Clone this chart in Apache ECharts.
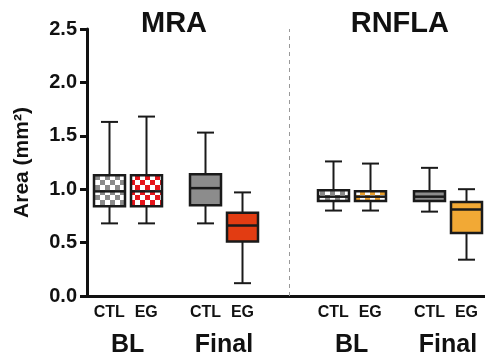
<!DOCTYPE html>
<html>
<head>
<meta charset="utf-8">
<script src="https://cdn.jsdelivr.net/npm/echarts@6/dist/echarts.min.js"></script>
<style>
  html, body { margin: 0; padding: 0; background: #fff; }
  #chart { width: 485px; height: 358px; }
</style>
</head>
<body>
<div id="chart"></div>
<script>
// groups and boxes, left to right
const measures = ['MRA', 'RNFLA'];
const stages = ['BL', 'Final', 'BL', 'Final'];
const groups = ['CTL', 'EG', 'CTL', 'EG', 'CTL', 'EG', 'CTL', 'EG'];

// where things sit on the x scale
const boxX = [0.6, 1.6, 3.2, 4.2, 6.65, 7.65, 9.25, 10.25];
const stageX = [1.1, 3.7, 7.15, 9.75];
const measureX = [2.35, 8.45];
const dividerX = 5.45;

// box plot stats (mm2)
const minVals = [0.68, 0.68, 0.68, 0.12, 0.80, 0.80, 0.79, 0.34];
const q1Vals = [0.84, 0.84, 0.85, 0.51, 0.89, 0.89, 0.89, 0.59];
const medianVals = [0.98, 0.98, 1.01, 0.66, 0.93, 0.93, 0.93, 0.81];
const q3Vals = [1.13, 1.13, 1.14, 0.78, 0.99, 0.98, 0.98, 0.88];
const maxVals = [1.63, 1.68, 1.53, 0.97, 1.26, 1.24, 1.20, 1.00];

function checker(color) {
    const c = document.createElement('canvas');
    c.width = 10; c.height = 10;
    const ctx = c.getContext('2d');
    ctx.fillStyle = '#fff';
    ctx.fillRect(0, 0, 10, 10);
    ctx.fillStyle = color;
    ctx.fillRect(0, 0, 5, 5);
    ctx.fillRect(5, 5, 5, 5);
    return { image: c, repeat: 'repeat' };
}

const fills = [
    checker('#8a8a8a'), checker('#e4141a'), '#8c8c8c', '#e23c12',
    checker('#8a8a8a'), checker('#eba02c'), '#8c8c8c', '#f2a935'
];

const boxData = boxX.map((x, i) => [x, minVals[i], q1Vals[i], medianVals[i], q3Vals[i], maxVals[i]]);

function renderBox(params, api) {
    const i = params.dataIndex;
    const x = api.value(0);
    const pMin = api.coord([x, api.value(1)]);
    const pQ1 = api.coord([x, api.value(2)]);
    const pMed = api.coord([x, api.value(3)]);
    const pQ3 = api.coord([x, api.value(4)]);
    const pMax = api.coord([x, api.value(5)]);
    const cx = Math.round(pMed[0]) + 0.5;
    const half = 15.5, cap = 8.5;
    const line = { stroke: '#1a1a1a', lineWidth: 2 };
    return {
        type: 'group',
        children: [
            { type: 'line', shape: { x1: cx, y1: pMax[1], x2: cx, y2: pMin[1] }, style: line },
            { type: 'line', shape: { x1: cx - cap, y1: pMax[1], x2: cx + cap, y2: pMax[1] }, style: line },
            { type: 'line', shape: { x1: cx - cap, y1: pMin[1], x2: cx + cap, y2: pMin[1] }, style: line },
            {
                type: 'rect',
                shape: { x: cx - half, y: pQ3[1], width: half * 2, height: pQ1[1] - pQ3[1] },
                style: { fill: fills[i], stroke: '#1a1a1a', lineWidth: 2.5 }
            },
            { type: 'line', shape: { x1: cx - half, y1: pMed[1], x2: cx + half, y2: pMed[1] }, style: { stroke: '#1a1a1a', lineWidth: 2.5 } }
        ]
    };
}

function labelAt(values, names) {
    return function (v) {
        let best = 0;
        values.forEach((x, k) => { if (Math.abs(x - v) < Math.abs(values[best] - v)) best = k; });
        return names[best];
    };
}

const font = 'Liberation Sans, Arial, sans-serif';

const myChart = echarts.init(document.getElementById('chart'));
myChart.setOption({
    animation: false,
    grid: { left: 87, right: 0, top: 29, bottom: 61 },
    xAxis: [
        {
            type: 'value', min: 0, max: 10.75,
            axisLine: { show: true, lineStyle: { color: '#111', width: 3 } },
            axisTick: { show: false },
            splitLine: { show: false },
            axisLabel: {
                customValues: boxX, formatter: labelAt(boxX, groups),
                color: '#111', fontFamily: font, fontWeight: 'bold', fontSize: 16, margin: 9
            }
        },
        {
            type: 'value', min: 0, max: 10.75, position: 'bottom',
            axisLine: { show: false }, axisTick: { show: false }, splitLine: { show: false },
            axisLabel: {
                customValues: stageX, formatter: labelAt(stageX, stages),
                color: '#111', fontFamily: font, fontWeight: 'bold', fontSize: 25, margin: 37
            }
        },
        {
            type: 'value', min: 0, max: 10.75, position: 'top',
            axisLine: { show: false }, axisTick: { show: false }, splitLine: { show: false },
            axisLabel: {
                customValues: measureX, formatter: labelAt(measureX, measures),
                color: '#111', fontFamily: font, fontWeight: 'bold', fontSize: 29, margin: -9
            }
        }
    ],
    yAxis: {
        type: 'value', min: 0, max: 2.5, interval: 0.5,
        name: 'Area (mm²)',
        nameLocation: 'middle', nameGap: 54,
        nameTextStyle: { color: '#111', fontFamily: font, fontWeight: 'bold', fontSize: 21 },
        axisLine: { show: true, lineStyle: { color: '#111', width: 3 } },
        axisTick: { show: true, length: 7, lineStyle: { color: '#111', width: 3 } },
        splitLine: { show: false },
        axisLabel: {
            formatter: v => v.toFixed(1),
            color: '#111', fontFamily: font, fontWeight: 'bold', fontSize: 20, margin: 10
        }
    },
    series: [{
        type: 'custom',
        renderItem: renderBox,
        data: boxData,
        encode: { x: 0, y: [1, 2, 3, 4, 5] },
        markLine: {
            silent: true,
            symbol: ['none', 'none'],
            label: { show: false },
            lineStyle: { color: '#999', width: 1, type: [4, 4] },
            data: [{ xAxis: dividerX }]
        }
    }]
});
window.addEventListener('resize', myChart.resize);
</script>
</body>
</html>
